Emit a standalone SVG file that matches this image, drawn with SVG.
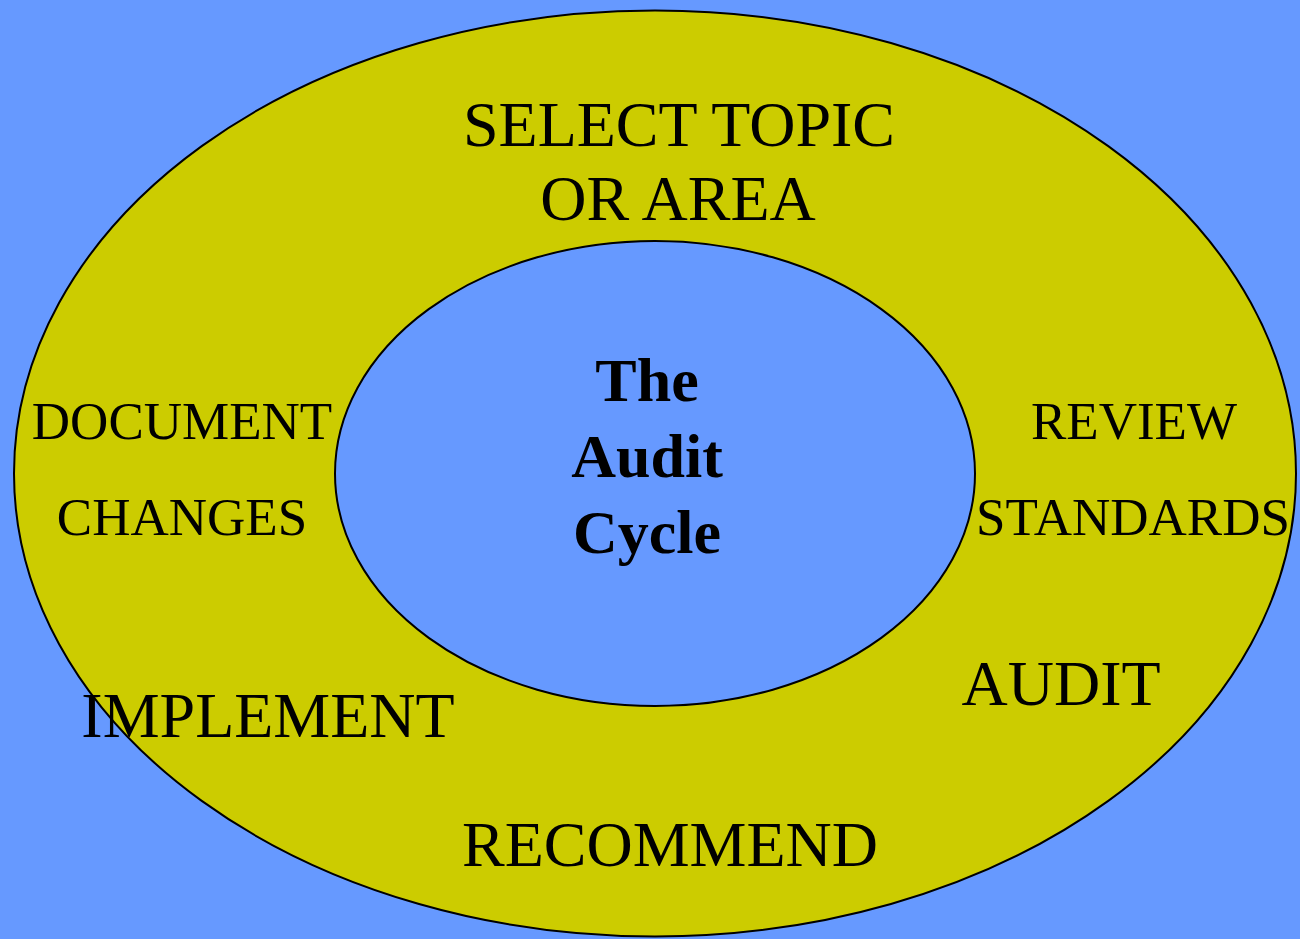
<svg xmlns="http://www.w3.org/2000/svg" width="1300" height="939" viewBox="0 0 1300 939">
<style>
.ring{stroke:#000;stroke-width:2}
.t{font-family:"Liberation Serif","Times New Roman",serif;fill:#000;text-anchor:middle}
.b{font-weight:bold}
</style>
<rect width="1300" height="939" fill="#6699FF"/>
<g id="outer">
<ellipse class="ring" cx="655" cy="473.5" rx="641" ry="463" fill="#CCCC00"/>
</g>
<g id="inner">
<ellipse class="ring" cx="655" cy="473.5" rx="320" ry="232.5" fill="#6699FF"/>
</g>
<g id="center">
<text class="t b" x="647" y="401" font-size="62">The</text>
<text class="t b" x="647" y="477" font-size="62">Audit</text>
<text class="t b" x="647" y="553" font-size="62">Cycle</text>
</g>
<g id="select">
<text class="t" x="679" y="146" font-size="64">SELECT TOPIC</text>
<text class="t" x="678" y="220" font-size="64">OR AREA</text>
</g>
<g id="review">
<text class="t" x="1134" y="439" font-size="53">REVIEW</text>
<text class="t" x="1133" y="535" font-size="53">STANDARDS</text>
</g>
<g id="audit">
<text class="t" x="1061" y="705" font-size="64">AUDIT</text>
</g>
<g id="recommend">
<text class="t" x="670" y="866" font-size="64">RECOMMEND</text>
</g>
<g id="implement">
<text class="t" x="268" y="737" font-size="64">IMPLEMENT</text>
</g>
<g id="document">
<text class="t" x="182" y="439" font-size="53">DOCUMENT</text>
<text class="t" x="182" y="535" font-size="53">CHANGES</text>
</g>
<g id="connectors"/>
</svg>
